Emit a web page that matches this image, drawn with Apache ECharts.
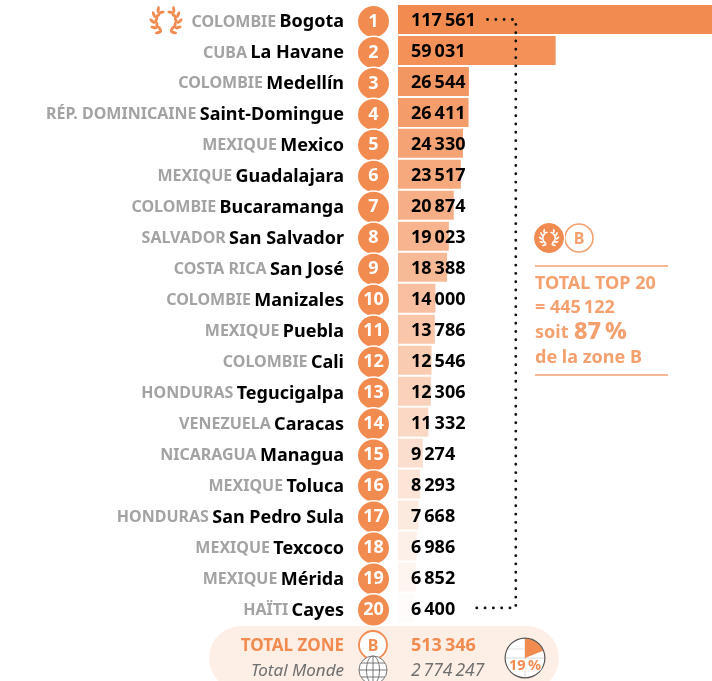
<!DOCTYPE html>
<html><head><meta charset="utf-8">
<style>html,body{margin:0;padding:0;background:#fff}#c{width:712px;height:681px}</style>
<script src="https://cdn.jsdelivr.net/npm/echarts@6/dist/echarts.min.js"></script>
</head><body><div id="c"></div>
<script>
const countries=['COLOMBIE','CUBA','COLOMBIE','RÉP. DOMINICAINE','MEXIQUE','MEXIQUE','COLOMBIE','SALVADOR','COSTA RICA','COLOMBIE','MEXIQUE','COLOMBIE','HONDURAS','VENEZUELA','NICARAGUA','MEXIQUE','HONDURAS','MEXIQUE','MEXIQUE','HAÏTI'];
const cities=['Bogota','La Havane','Medellín','Saint-Domingue','Mexico','Guadalajara','Bucaramanga','San Salvador','San José','Manizales','Puebla','Cali','Tegucigalpa','Caracas','Managua','Toluca','San Pedro Sula','Texcoco','Mérida','Cayes'];
const values=[117561,59031,26544,26411,24330,23517,20874,19023,18388,14000,13786,12546,12306,11332,9274,8293,7668,6986,6852,6400];
const ranks=['1','2','3','4','5','6','7','8','9','10','11','12','13','14','15','16','17','18','19','20'];
const bracketX=[33500,44100,44100,27500];
const bracketRow=[0,0,19,19];
const totalZone=513346, totalWorld=2774247, totalTop=445122;
const shareTop=87, shareWorld=19;

const F='"Noto Sans", sans-serif', OR='#F28B50', OR2='#F4A06F';
const fmt=n=>String(n).replace(/\B(?=(\d{3})+$)/g,'\u2009');

function laurel(cx,cy,R,color,s,z){
  const out=[];
  [-1,1].forEach(side=>{
    [22,50,78,106,134].forEach((deg,i)=>{
      const th=deg*Math.PI/180;
      const sx=cx+side*R*Math.sin(th), sy=cy+R*Math.cos(th);
      const a=Math.atan2(-Math.sin(th),side*Math.cos(th));
      [1,-1].forEach(sg=>{
        const b=a+sg*0.62, L=3.5*s;
        out.push({type:'ellipse',x:sx+L*Math.cos(b),y:sy+L*Math.sin(b),rotation:-b,
          shape:{cx:0,cy:0,rx:L,ry:1.5*s},style:{fill:color},silent:true,z});
      });
    });
  });
  return out;
}
const txt=(x,y,t,o)=>({type:'text',x,y:y+1,silent:true,z:20,style:Object.assign({text:t,fontFamily:F,fontWeight:700,fontSize:18,fill:OR,verticalAlign:'middle'},o||{})});
const ring=(cx,cy,r,stroke,fill,lw,z)=>({type:'circle',shape:{cx,cy,r},style:{stroke,fill,lineWidth:lw},silent:true,z:z||19});
const gl=(x1,y1,x2,y2,c,z)=>({type:'line',shape:{x1,y1,x2,y2},style:{stroke:c,lineWidth:1},silent:true,z});

const globe=[ring(373,670,14,'#777','#fff',1),
  {type:'ellipse',shape:{cx:373,cy:670,rx:6.5,ry:14},style:{stroke:'#777',fill:'none',lineWidth:1},silent:true,z:20},
  gl(373,656,373,684,'#777',20),gl(359,670,387,670,'#777',20),gl(361,663,385,663,'#777',20),gl(361,677,385,677,'#777',20)];

const graphics=[
  {type:'rect',shape:{x:209,y:626,width:350,height:64,r:32},style:{fill:'#FDEEE6'},silent:true,z:-10},
  ...laurel(166,21,11.5,OR,1,20),
  ring(579,238,14,OR2,'#fff',1.6,18),
  ring(549,238,16,'#fff','#fff',1,18.5),
  ring(549,238,14.5,OR,OR,1),
  ...laurel(549,238,7.2,'#fff',0.6,20),
  txt(579,238,'B',{textAlign:'center',fill:OR2,fontSize:16}),
  {type:'line',shape:{x1:535,y1:266,x2:668,y2:266},style:{stroke:OR2,lineWidth:1.5},silent:true},
  {type:'line',shape:{x1:535,y1:375,x2:668,y2:375},style:{stroke:OR2,lineWidth:1.5},silent:true},
  txt(535,283,'TOTAL TOP 20',{fill:OR2}),
  txt(535,307,'= '+fmt(totalTop),{fill:OR2}),
  txt(535,332,'soit',{fill:OR2}),
  txt(574,331,shareTop+'\u2009%',{fill:OR2,fontSize:23.5,fontWeight:800}),
  txt(535,357,'de la zone B',{fill:OR2}),
  txt(344,645,'TOTAL ZONE',{textAlign:'right',fontSize:17}),
  ring(373,645,14,OR,'#fff',1.8),
  txt(373,645,'B',{textAlign:'center',fontSize:16}),
  txt(411,645,fmt(totalZone)),
  txt(344,670,'Total Monde',{textAlign:'right',fill:'#707070',fontWeight:400,fontStyle:'italic',fontSize:17}),
  ...globe,
  txt(411,670,fmt(totalWorld),{fill:'#707070',fontWeight:400,fontStyle:'italic',fontSize:17.5}),
  gl(505,658,545,658,'#D8D8D8',3.5),gl(525,638,525,678,'#D8D8D8',3.5),gl(507,649,543,649,'#E4E4E4',3.5),
  {type:'sector',shape:{cx:525,cy:658,r:19.5,r0:0,startAngle:-Math.PI/2,endAngle:-Math.PI/2+2*Math.PI*shareWorld/100,clockwise:true},style:{fill:OR},silent:true,z:3.6},
  txt(525,665,shareWorld+'\u2009%',{textAlign:'center',fontSize:14.5,stroke:'#fff',lineWidth:2})
];

const yBase={type:'category',inverse:true,axisLine:{show:false},axisTick:{show:false},splitLine:{show:false}};
const option={
  animation:false,
  grid:{left:398,top:4,width:314,height:619.4,containLabel:false},
  xAxis:{type:'value',min:0,max:117561,show:false},
  yAxis:[
    Object.assign({},yBase,{data:cities.map((c,i)=>i),position:'left',axisLabel:{margin:54,interval:0,padding:[5,0,0,0],
      formatter:(v,i)=>'{c|'+countries[i]+'} {n|'+cities[i]+'}',
      rich:{c:{fontFamily:F,fontWeight:700,fontSize:16,color:'#A3A3A3'},n:{fontFamily:F,fontWeight:700,fontSize:18,color:'#000'}}}}),
    Object.assign({},yBase,{data:ranks,position:'left',offset:0,axisLabel:{margin:9,interval:0,padding:[4,0,0,0],
      formatter:v=>'{r|'+v+'}',
      rich:{r:{width:31,height:31,lineHeight:31,align:'center',borderRadius:16,backgroundColor:OR,borderColor:'#fff',borderWidth:1.5,color:'#fff',fontFamily:F,fontWeight:700,fontSize:18}}}})
  ],
  series:[
    {type:'bar',yAxisIndex:0,barWidth:29,z:2,
     data:values.map((v,i)=>({value:v,itemStyle:{color:OR,opacity:1-0.97*i/19}})),
     label:{show:true,position:'insideLeft',distance:13,offset:[0,1.5],color:'#000',opacity:1,fontFamily:F,fontWeight:700,fontSize:18,formatter:p=>fmt(p.value)}},
    {type:'line',yAxisIndex:0,z:5,showSymbol:false,silent:true,clip:false,
     data:bracketX.map((x,i)=>[x,bracketRow[i]]),
     lineStyle:{color:'#111',width:2.8,cap:'round',type:[0.1,8.2]}},
    {type:'pie',center:[525,658],radius:[0,20],silent:true,z:3,label:{show:false},labelLine:{show:false},
     data:[{value:1,itemStyle:{color:'#fff'}}]},
    {type:'pie',center:[525,658],radius:[19.3,20.5],silent:true,z:4,label:{show:false},labelLine:{show:false},
     data:[{value:1,itemStyle:{color:'#555'}}]}
  ],
  graphic:{elements:graphics}
};
const chart=echarts.init(document.getElementById('c'),null,{renderer:'canvas'});
chart.setOption(option);
</script></body></html>
